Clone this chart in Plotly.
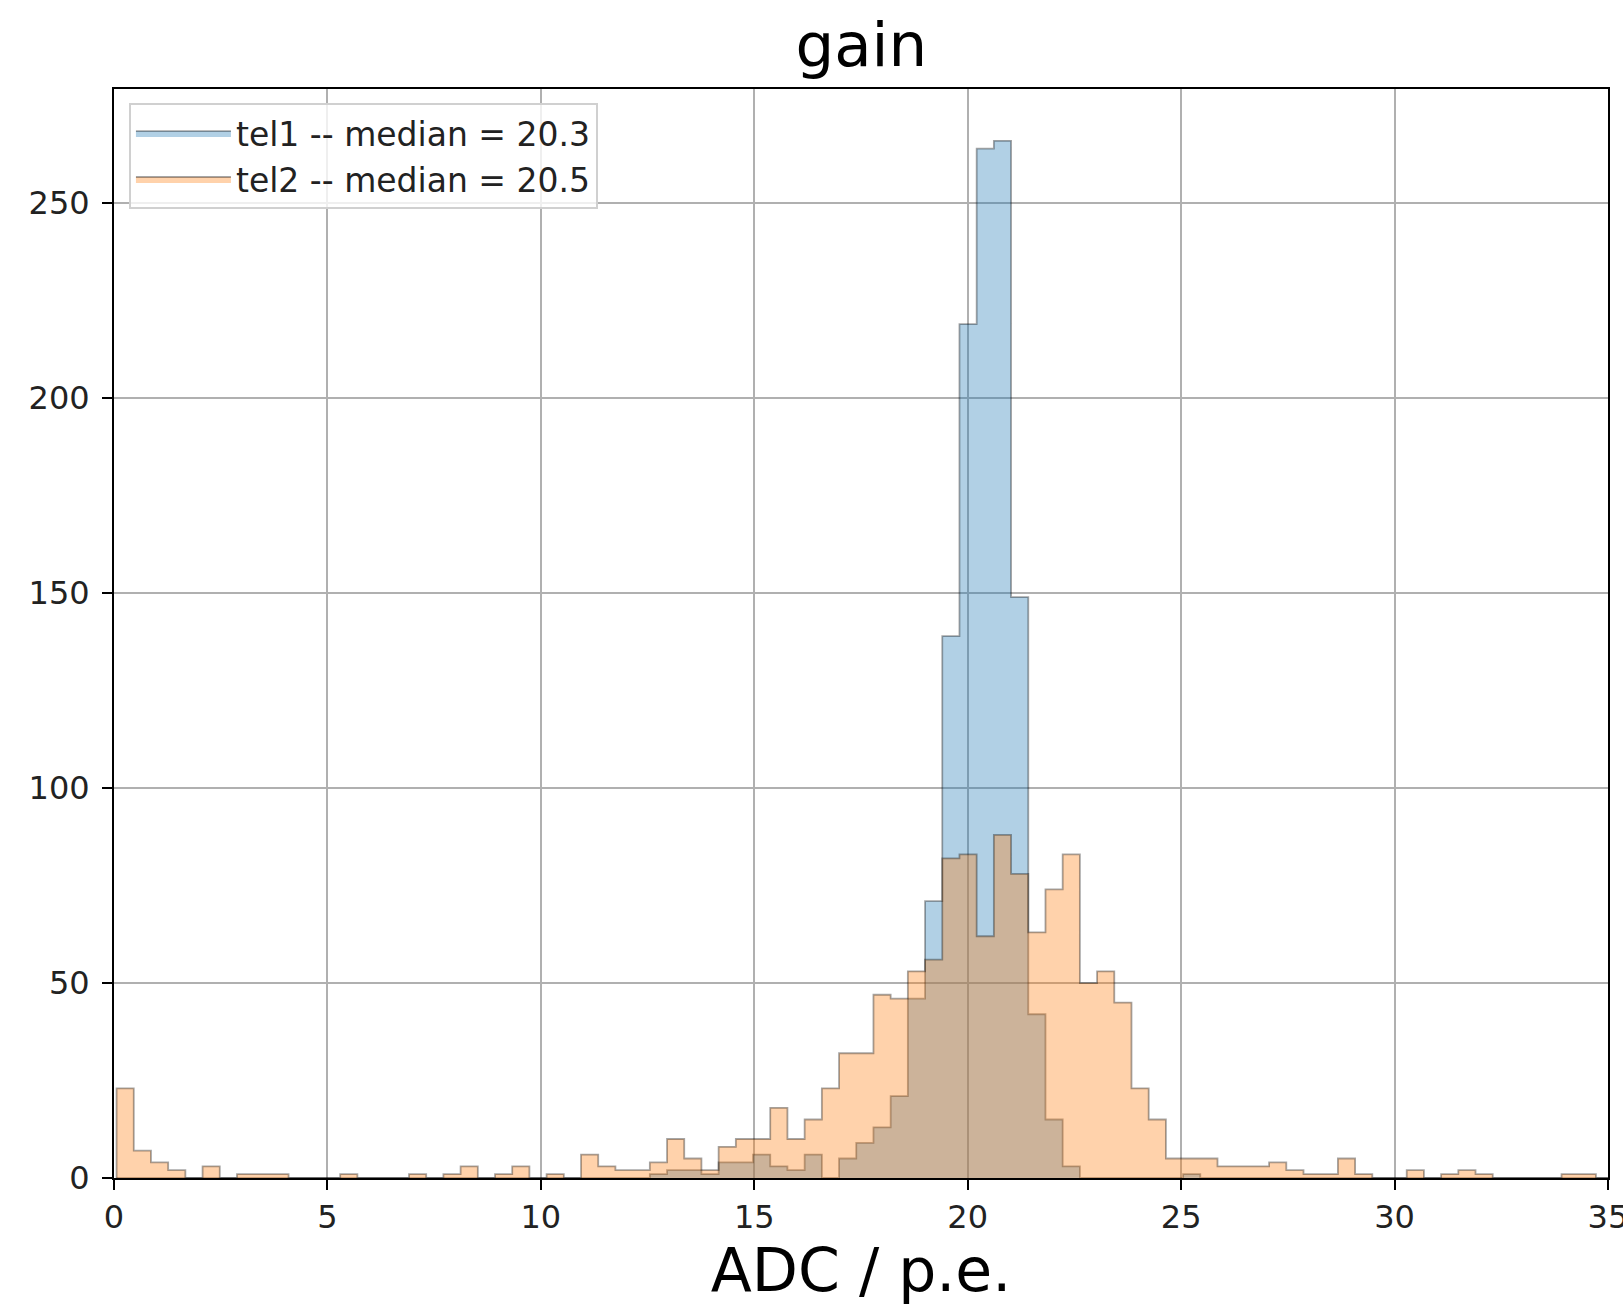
import plotly.graph_objects as go

# Histogram binning
bin_start = 0.06
bin_width = 0.403

# Counts per bin (bin k spans bin_start + k*bin_width ... +bin_width)
tel1_counts = [
    0, 0, 0, 0, 0, 0, 0, 0, 0, 0,        # 0-9
    0, 0, 0, 0, 0, 0, 0, 0, 0, 0,        # 10-19
    0, 0, 0, 0, 0, 0, 0, 0, 0, 0,        # 20-29
    0, 1, 2, 2, 1, 4, 4, 6, 3, 2,        # 30-39
    6, 0, 5, 9, 13, 21, 46, 71, 139, 219,  # 40-49
    264, 266, 149, 42, 15, 3, 0, 0, 0, 0,  # 50-59
    0, 0, 1, 0, 0, 0, 0, 0, 0, 0,        # 60-69
    0, 0, 0, 0, 0, 0, 0, 0, 0, 0,        # 70-79
    0, 0, 0, 0, 0, 0, 0,                 # 80-86
]
tel2_counts = [
    23, 7, 4, 2, 0, 3, 0, 1, 1, 1,       # 0-9
    0, 0, 0, 1, 0, 0, 0, 1, 0, 1,        # 10-19
    3, 0, 1, 3, 0, 1, 0, 6, 3, 2,        # 20-29
    2, 4, 10, 5, 2, 8, 10, 10, 18, 10,   # 30-39
    15, 23, 32, 32, 47, 46, 53, 56, 82, 83,  # 40-49
    62, 88, 78, 63, 74, 83, 50, 53, 45, 23,  # 50-59
    15, 5, 5, 5, 3, 3, 3, 4, 2, 1,       # 60-69
    1, 5, 1, 0, 0, 2, 0, 1, 2, 1,        # 70-79
    0, 0, 0, 0, 1, 1, 0,                 # 80-86
]
series_names = ["tel1 -- median = 20.3", "tel2 -- median = 20.5"]
fill_colors = ["rgba(31,119,180,0.35)", "rgba(255,127,14,0.35)"]

x_ticks = [0, 5, 10, 15, 20, 25, 30, 35]
y_ticks = [0, 50, 100, 150, 200, 250]


def step_xy(counts):
    edges = [bin_start + k * bin_width for k in range(len(counts) + 1)]
    xs = [edges[0]] + edges[:-1] + [edges[-1]]
    ys = [0] + list(counts) + [0]
    return xs, ys


fig = go.Figure()
for counts, name, col in zip([tel1_counts, tel2_counts], series_names, fill_colors):
    xs, ys = step_xy(counts)
    fig.add_trace(go.Scatter(
        x=xs, y=ys, mode="lines", line_shape="hv",
        fill="tozeroy", fillcolor=col,
        line=dict(color="rgba(0,0,0,0.35)", width=1.8),
        name=name, hoverinfo="skip",
    ))

font_family = "DejaVu Sans, Liberation Sans, sans-serif"
fig.update_layout(
    width=1623, height=1305,
    margin=dict(l=114, r=15, t=89, b=126.5),
    paper_bgcolor="white", plot_bgcolor="white",
    font=dict(family=font_family, color="black", size=32),
    title=dict(text="gain", x=0.5307, xanchor="center", y=1 - 45 / 1305,
               yanchor="middle", yref="container",
               font=dict(size=61, family=font_family, color="black")),
    showlegend=True,
    legend=dict(x=0.010, y=0.987, xanchor="left", yanchor="top",
                bgcolor="rgba(255,255,255,0.8)", bordercolor="#d0d0d0", borderwidth=2,
                font=dict(size=33, family=font_family, color="#222"),
                itemwidth=95, tracegroupgap=0),
)
fig.update_xaxes(
    range=[0, 35.0005], tickvals=x_ticks, ticktext=[str(v) for v in x_ticks],
    showgrid=True, gridcolor="#b0b0b0", gridwidth=2,
    showline=True, linecolor="black", linewidth=2, mirror=True,
    ticks="outside", ticklen=10, tickwidth=2, tickcolor="black",
    zeroline=False, ticklabelstandoff=0, ticklabeloverflow="allow",
    tickfont=dict(size=32, family=font_family, color="#222"),
    title=dict(text="ADC / p.e.", standoff=22,
               font=dict(size=60, family=font_family, color="black")),
    automargin=False,
)
fig.update_yaxes(
    range=[0, 279.3], tickvals=y_ticks, ticktext=[str(v) for v in y_ticks],
    showgrid=True, gridcolor="#b0b0b0", gridwidth=2,
    showline=True, linecolor="black", linewidth=2, mirror=True,
    ticks="outside", ticklen=10, tickwidth=2, tickcolor="black",
    zeroline=False, ticklabelstandoff=6,
    tickfont=dict(size=32, family=font_family, color="#222"),
    automargin=False,
)

fig.write_html("out.html")
